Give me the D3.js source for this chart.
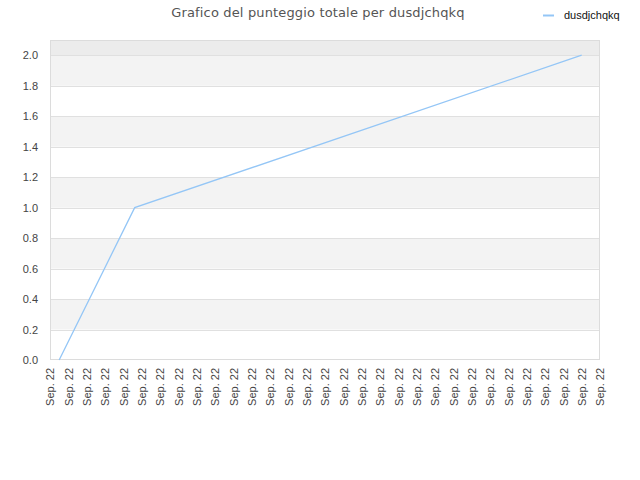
<!DOCTYPE html>
<html><head><meta charset="utf-8">
<script src="https://cdn.jsdelivr.net/npm/d3@7"></script>
<style>body{margin:0;background:#fff}svg{display:block}</style>
</head><body><svg id="c" width="640" height="480"></svg>
<script>
const title = "Grafico del punteggio totale per dusdjchqkq";
const seriesName = "dusdjchqkq";
const xTickLabels = Array.from({length:31}, () => "Sep. 22");
const xPositions = [0.5, 4.62, 29.0];
const scores = [0, 1, 2];
const yTicks = [0,0.2,0.4,0.6,0.8,1.0,1.2,1.4,1.6,1.8,2.0];

const svg = d3.select("#c");
const L=50,R=600,T=40,B=360;
const x = d3.scaleLinear().domain([0, xTickLabels.length-1]).range([L,R]);
const y = d3.scaleLinear().domain([0,2.1]).range([B,T]);

// bands
const bandEdges = yTicks.concat([2.1]);
for(let i=0;i<bandEdges.length-1;i++){
  let fill = i%2===1 ? "#f3f3f3" : "#ffffff";
  if(i===bandEdges.length-2) fill="#ececec";
  svg.append("rect").attr("x",L).attr("width",R-L)
    .attr("y",y(bandEdges[i+1])).attr("height",y(bandEdges[i])-y(bandEdges[i+1])).attr("fill",fill);
}
// grid
svg.append("g").selectAll("line").data(yTicks.slice(1)).join("line")
  .attr("x1",L).attr("x2",R).attr("y1",d=>Math.round(y(d))+0.5).attr("y2",d=>Math.round(y(d))+0.5)
  .attr("stroke","#e0e0e0");
svg.append("rect").attr("x",L+0.5).attr("y",T+0.5).attr("width",R-L-1).attr("height",B-T-1)
  .attr("fill","none").attr("stroke","#dcdcdc");

// y axis
const ya = svg.append("g").attr("transform",`translate(${L},0)`)
  .call(d3.axisLeft(y).tickValues(yTicks).tickFormat(d3.format(".1f")).tickSize(0).tickPadding(12));
ya.select(".domain").remove();
ya.selectAll("text").attr("font-family","Liberation Sans, Arial, sans-serif").attr("font-size",11).attr("fill","#444");

// x axis
const xa = svg.append("g").attr("transform",`translate(0,${B})`)
  .call(d3.axisBottom(x).tickValues(d3.range(xTickLabels.length)).tickFormat(i=>xTickLabels[i]).tickSize(0));
xa.select(".domain").remove();
xa.selectAll("text").attr("font-family","Liberation Sans, Arial, sans-serif").attr("font-size",11).attr("fill","#444")
  .attr("text-anchor","end").attr("transform","rotate(-90)").attr("x",-8).attr("y",0).attr("dy","0.35em");

// line
const data = xPositions.map((p,i)=>({p, v:scores[i]}));
svg.append("path").datum(data)
  .attr("d", d3.line().x(d=>x(d.p)).y(d=>y(d.v)))
  .attr("fill","none").attr("stroke","#94c6f6").attr("stroke-width",1.3);

// title
svg.append("text").attr("x",318).attr("y",17).attr("text-anchor","middle").attr("letter-spacing","0.15px")
  .attr("font-family","DejaVu Sans, sans-serif").attr("font-size",13).attr("fill","#555").text(title);
// legend
svg.append("line").attr("x1",543).attr("x2",554).attr("y1",15.5).attr("y2",15.5).attr("stroke","#94c6f6").attr("stroke-width",2);
svg.append("text").attr("x",564).attr("y",19).attr("font-family","Liberation Sans, Arial, sans-serif")
  .attr("font-size",11).attr("fill","#111").text(seriesName);
</script></body></html>
